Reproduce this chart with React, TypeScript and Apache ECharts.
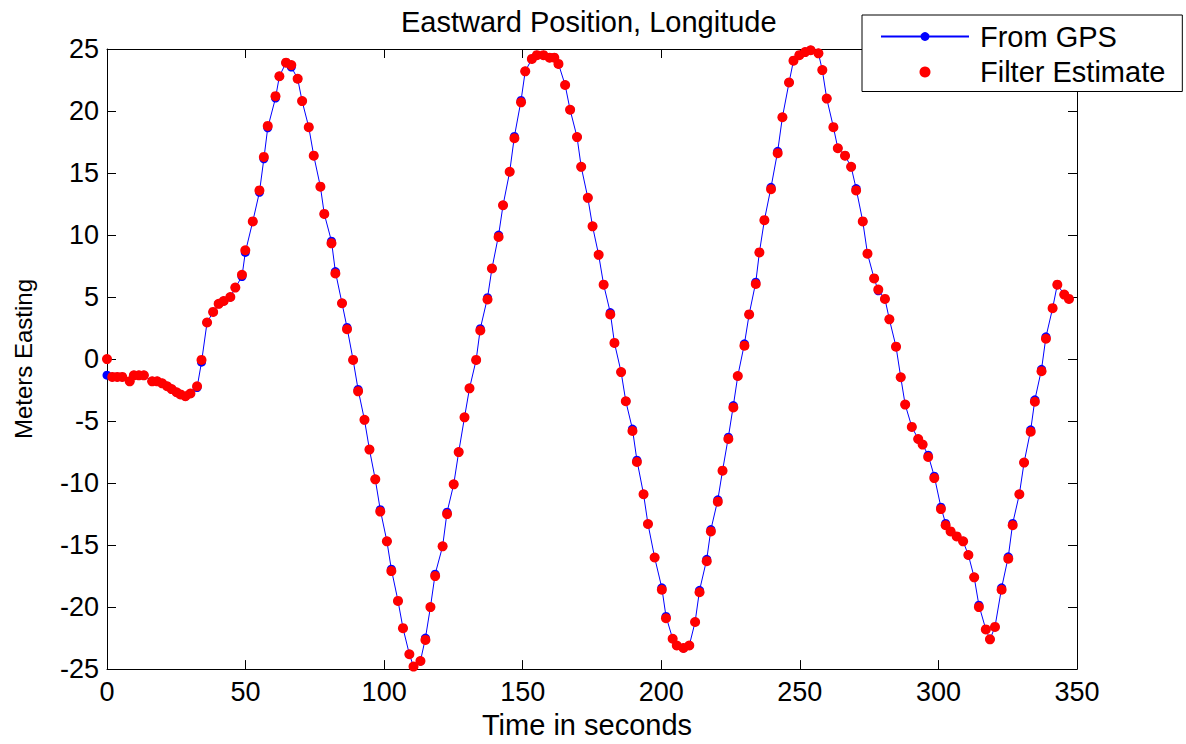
import React, { useEffect, useRef } from "react";
import * as echarts from "echarts";

const TITLE = "Eastward Position, Longitude";
const X_NAME = "Time in seconds";
const Y_NAME = "Meters Easting";
const SERIES_NAMES = ["From GPS", "Filter Estimate"];

const timeSec = [
  0, 1.9, 3.7, 5.5, 8.2, 9.7, 11.5, 13.3, 16.3, 18.1,
  19.9, 21.7, 23.3, 25.1, 26.5, 28.3, 30.1, 32.5, 34.1, 36.1,
  38.3, 40.3, 42.1, 44.5, 46.3, 48.7, 49.9, 52.6, 55.0, 56.6,
  58.0, 60.8, 62.2, 64.6, 66.5, 68.8, 70.4, 72.8, 74.6, 77.0,
  78.4, 81.0, 82.4, 84.8, 86.6, 88.8, 90.6, 92.9, 94.7, 96.8,
  98.6, 101.0, 102.6, 105.0, 106.8, 109.1, 110.6, 113.1, 114.9, 116.7,
  118.4, 121.1, 122.7, 125.1, 126.9, 129.0, 130.8, 133.2, 134.7, 137.3,
  138.9, 141.3, 142.9, 145.3, 147.0, 149.4, 150.9, 153.3, 155.1, 157.5,
  159.7, 161.4, 162.9, 165.3, 167.1, 169.6, 171.1, 173.5, 175.2, 177.4,
  179.2, 181.6, 183.1, 185.5, 187.2, 189.6, 191.2, 193.6, 195.2, 197.6,
  200.2, 201.7, 204.1, 205.6, 208.0, 210.1, 212.2, 213.8, 216.4, 217.9,
  220.4, 222.1, 224.2, 226.0, 227.6, 230.0, 231.7, 234.1, 235.4, 237.2,
  239.6, 242.0, 243.7, 246.1, 247.7, 249.8, 251.9, 253.9, 256.7, 258.1,
  259.7, 262.1, 263.7, 266.3, 268.5, 270.3, 272.7, 274.4, 276.8, 278.3,
  280.7, 282.3, 284.7, 286.4, 288.0, 290.4, 292.7, 294.3, 296.3, 298.5,
  300.9, 302.6, 304.4, 306.6, 308.9, 310.8, 312.9, 314.6, 317.1, 318.6,
  320.4, 322.8, 325.2, 326.8, 329.2, 330.9, 333.3, 334.8, 337.2, 338.8,
  341.2, 342.9, 345.4, 347.1,
];

const filterEasting = [
  0, -1.44, -1.44, -1.44, -1.8, -1.31, -1.31, -1.31, -1.8, -1.8,
  -1.96, -2.19, -2.42, -2.68, -2.85, -3.0, -2.78, -2.19, -0.07, 2.95,
  3.8, 4.45, 4.68, 5.0, 5.76, 6.8, 8.77, 11.1, 13.6, 16.3,
  18.8, 21.2, 22.8, 23.9, 23.7, 22.6, 20.8, 18.7, 16.4, 13.9,
  11.7, 9.33, 6.9, 4.5, 2.4, -0.07, -2.6, -4.9, -7.3, -9.7,
  -12.3, -14.7, -17.1, -19.5, -21.7, -23.8, -24.8, -24.35, -22.65, -20.0,
  -17.5, -15.1, -12.5, -10.1, -7.5, -4.7, -2.36, -0.07, 2.3, 4.8,
  7.3, 9.85, 12.4, 15.1, 17.8, 20.7, 23.2, 24.2, 24.5, 24.5,
  24.3, 24.3, 23.8, 22.1, 20.1, 17.9, 15.5, 13.0, 10.7, 8.4,
  6.0, 3.6, 1.3, -1.05, -3.4, -5.8, -8.3, -10.9, -13.3, -16.0,
  -18.6, -20.9, -22.55, -23.1, -23.3, -23.1, -21.2, -18.8, -16.3, -13.9,
  -11.5, -9.0, -6.45, -3.9, -1.37, 1.08, 3.6, 6.05, 8.6, 11.2,
  13.7, 16.6, 19.5, 22.3, 24.06, 24.5, 24.75, 24.9, 24.65, 23.3,
  21.0, 18.7, 17.0, 16.4, 15.5, 13.6, 11.1, 8.5, 6.5, 5.6,
  4.85, 3.2, 1.0, -1.47, -3.67, -5.47, -6.45, -6.9, -7.9, -9.6,
  -12.1, -13.4, -13.9, -14.3, -14.7, -15.8, -17.6, -20.0, -21.8, -22.6,
  -21.6, -18.6, -16.1, -13.4, -10.9, -8.35, -5.86, -3.44, -0.98, 1.64,
  4.1, 6.0, 5.2, 4.85,
];

const gpsEasting = [
  -1.3, -1.44, -1.44, -1.44, -1.8, -1.31, -1.31, -1.31, -1.8, -1.8,
  -1.96, -2.19, -2.42, -2.68, -2.85, -3.0, -2.78, -2.3, -0.25, 2.95,
  3.8, 4.45, 4.68, 5.0, 5.76, 6.65, 8.6, 11.1, 13.45, 16.15,
  18.65, 21.05, 22.8, 23.9, 23.55, 22.6, 20.8, 18.7, 16.4, 13.9,
  11.7, 9.5, 7.05, 4.5, 2.55, -0.07, -2.45, -4.9, -7.3, -9.7,
  -12.15, -14.7, -16.95, -19.5, -21.7, -23.8, -24.8, -24.35, -22.5, -20.0,
  -17.35, -15.1, -12.35, -10.1, -7.5, -4.7, -2.36, -0.07, 2.45, 4.95,
  7.3, 10.0, 12.4, 15.1, 17.95, 20.85, 23.2, 24.2, 24.5, 24.5,
  24.3, 24.3, 23.8, 22.1, 20.1, 17.9, 15.5, 13.0, 10.7, 8.4,
  6.0, 3.75, 1.3, -1.05, -3.4, -5.65, -8.15, -10.9, -13.3, -16.0,
  -18.45, -20.75, -22.55, -23.1, -23.3, -23.1, -21.2, -18.65, -16.15, -13.75,
  -11.35, -9.0, -6.3, -3.75, -1.37, 1.23, 3.6, 6.2, 8.6, 11.2,
  13.85, 16.75, 19.5, 22.3, 24.06, 24.5, 24.75, 24.9, 24.65, 23.3,
  21.0, 18.7, 17.0, 16.4, 15.5, 13.75, 11.1, 8.5, 6.5, 5.5,
  4.85, 3.2, 1.0, -1.47, -3.67, -5.47, -6.45, -6.9, -7.75, -9.45,
  -11.95, -13.25, -13.9, -14.3, -14.7, -15.8, -17.6, -19.85, -21.8, -22.6,
  -21.6, -18.45, -15.95, -13.25, -10.9, -8.35, -5.71, -3.29, -0.83, 1.79,
  4.1, 6.0, 5.2, 4.85,
];

const X_MIN = 0;
const X_MAX = 350;
const X_STEP = 50;
const Y_MIN = -25;
const Y_MAX = 25;
const Y_STEP = 5;

const FONT = "'Liberation Sans', Arial, Helvetica, sans-serif";

export default function App() {
  const ref = useRef<HTMLDivElement>(null);

  useEffect(() => {
    if (!ref.current) return;
    const chart = echarts.init(ref.current, null, { renderer: "svg" });

    const gpsData = timeSec.map((t, i) => [t, gpsEasting[i]]);
    const filterData = timeSec.map((t, i) => [t, filterEasting[i]]);

    const axisLine = { show: true, onZero: false, lineStyle: { color: "#000", width: 1 } };
    const axisTick = { show: true, inside: true, length: 9, lineStyle: { color: "#000", width: 1 } };

    chart.setOption({
      animation: false,
      backgroundColor: "#fff",
      textStyle: { fontFamily: FONT },
      title: {
        text: TITLE,
        left: 401,
        top: 7,
        padding: 0,
        textStyle: { fontSize: 29, fontWeight: "normal", color: "#000", fontFamily: FONT },
      },
      legend: {
        orient: "vertical",
        left: 862,
        top: 15,
        padding: [7, 17, 5, 18],
        itemGap: 6.5,
        itemWidth: 88,
        itemHeight: 11,
        backgroundColor: "#fff",
        borderColor: "#000",
        borderWidth: 1,
        borderRadius: 0,
        selectedMode: false,
        textStyle: { fontSize: 29, color: "#000", fontFamily: FONT, padding: [0, 0, 0, 6] },
        data: SERIES_NAMES,
      },
      grid: { left: 107, top: 49, width: 970, height: 623, containLabel: false },
      xAxis: [
        {
          type: "value",
          position: "bottom",
          min: X_MIN,
          max: X_MAX,
          interval: X_STEP,
          axisLine,
          axisTick,
          splitLine: { show: false },
          axisLabel: { fontSize: 27, color: "#000", margin: 9, fontFamily: FONT },
          name: X_NAME,
          nameLocation: "middle",
          nameGap: 38,
          nameTextStyle: { fontSize: 29, color: "#000", fontFamily: FONT, padding: [0, 10, 0, 0] },
        },
        {
          type: "value",
          position: "top",
          min: X_MIN,
          max: X_MAX,
          interval: X_STEP,
          axisLine,
          axisTick,
          splitLine: { show: false },
          axisLabel: { show: false },
        },
      ],
      yAxis: [
        {
          type: "value",
          position: "left",
          min: Y_MIN,
          max: Y_MAX,
          interval: Y_STEP,
          axisLine,
          axisTick,
          splitLine: { show: false },
          axisLabel: { fontSize: 27, color: "#000", margin: 8, fontFamily: FONT },
          name: Y_NAME,
          nameLocation: "middle",
          nameGap: 72,
          nameTextStyle: { fontSize: 24, color: "#000", fontFamily: FONT },
        },
        {
          type: "value",
          position: "right",
          min: Y_MIN,
          max: Y_MAX,
          interval: Y_STEP,
          axisLine,
          axisTick,
          splitLine: { show: false },
          axisLabel: { show: false },
        },
      ],
      series: [
        {
          name: SERIES_NAMES[0],
          type: "line",
          xAxisIndex: 0,
          yAxisIndex: 0,
          data: gpsData,
          symbol: "circle",
          symbolSize: 9,
          showSymbol: true,
          lineStyle: { color: "#0000ff", width: 1 },
          itemStyle: { color: "#0000ff", opacity: 1 },
          z: 2,
        },
        {
          name: SERIES_NAMES[1],
          type: "scatter",
          xAxisIndex: 0,
          yAxisIndex: 0,
          data: filterData,
          symbol: "circle",
          symbolSize: 10,
          itemStyle: { color: "#ff0000", opacity: 1 },
          z: 3,
        },
      ],
    });

    return () => chart.dispose();
  }, []);

  return (
    <div
      ref={ref}
      style={{ position: "fixed", left: 0, top: 0, width: 1186, height: 744, background: "#fff" }}
    />
  );
}
